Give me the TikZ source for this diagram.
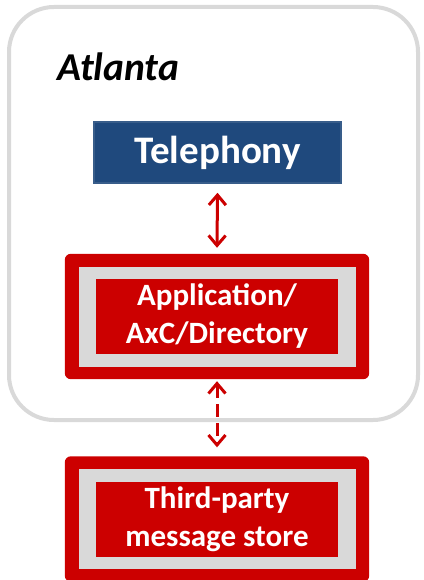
\documentclass[tikz,border=0pt]{standalone}
\usepackage{fontspec}
\setmainfont{Carlito}
\usetikzlibrary{arrows.meta,backgrounds,positioning}

\definecolor{boxred}{RGB}{204,0,0}
\definecolor{bandgray}{RGB}{217,217,217}
\definecolor{telblue}{RGB}{31,73,125}
\definecolor{telrim}{RGB}{56,93,138}
\definecolor{siteline}{RGB}{217,217,217}

\begin{document}
\begin{tikzpicture}
[
    x=1pt, y=-1pt,
    core/.style={
        fill=boxred,
        text=white,
        font=\bfseries\fontsize{31}{38}\selectfont,
        align=center,
        minimum width=242pt,
        minimum height=75pt,
        inner sep=0pt
    },
    link/.style={
        boxred,
        line width=3pt,
        {Straight Barb[length=10pt,width=17pt]}-{Straight Barb[length=10pt,width=17pt]}
    }
]

\useasboundingbox (0,0) rectangle (423,580);

% Site box
\draw
[
    siteline,
    line width=4pt,
    rounded corners=45pt
] (9,7) rectangle (418,420);

\node[anchor=base west, font=\bfseries\itshape\fontsize{39.5}{46}\selectfont] (site) at (54,81) {Atlanta};

% Boxes
\node
[
    fill=telblue,
    draw=telrim,
    line width=1.5pt,
    text=white,
    font=\bfseries\fontsize{39}{46}\selectfont,
    minimum width=247pt,
    minimum height=61pt,
    inner sep=0pt
] (tel) at (217.5,152.5) {Telephony};

\node[core] (app) at (217,316.5) {Application/\\AxC/Directory};
\node[core] (store) at (217,519) {Third-party\\message store};

% Red and gray frames round the boxes
\begin{scope}[on background layer]
\foreach \n in {app,store}{
    \fill[boxred, rounded corners=6pt] ([xshift=-31pt,yshift=25pt]\n.north west) rectangle ([xshift=31pt,yshift=-25pt]\n.south east);
    \fill[bandgray] ([xshift=-17pt,yshift=12pt]\n.north west) rectangle ([xshift=18pt,yshift=-12.5pt]\n.south east);
}
\end{scope}

% Links
\draw[link] ([yshift=-9pt]tel.south) -- ([yshift=31pt]app.north);
\draw[link, dash pattern=on 13pt off 6pt] ([yshift=-27pt]app.south) -- ([yshift=34pt]store.north);

\end{tikzpicture}
\end{document}
